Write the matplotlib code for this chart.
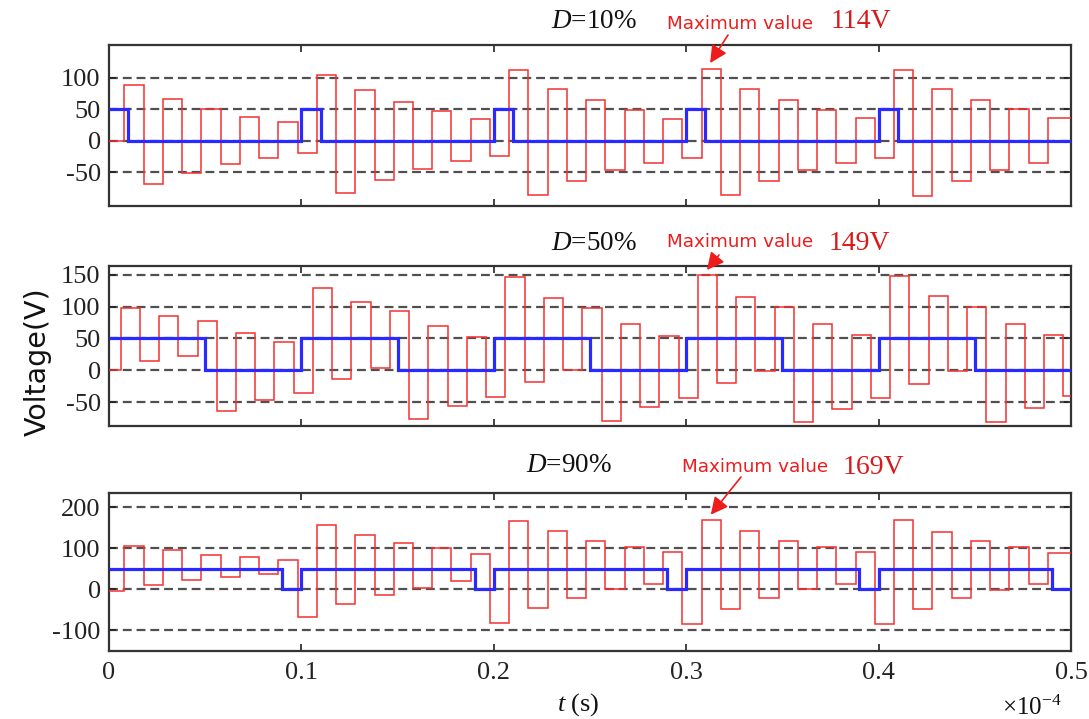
import numpy as np
import matplotlib
matplotlib.use("Agg")
import matplotlib.pyplot as plt
from matplotlib.ticker import FuncFormatter

plt.rcParams["axes.unicode_minus"] = False
plt.rcParams["mathtext.fontset"] = "custom"
plt.rcParams["mathtext.rm"] = "Liberation Serif"
plt.rcParams["mathtext.it"] = "Liberation Serif:italic"

# ---- data -------------------------------------------------------------
duty_cycles = [0.10, 0.50, 0.90]
duty_labels = ["10", "50", "90"]
peak_labels = ["114V", "149V", "169V"]
pwm_period_us = 10.0
pwm_amplitude = 50.0
t_end_us = 50.0
step_us = 1.0                      # switching step of the output voltage
first_switch_us = [0.8, 0.6, 0.8]  # first output transition in each case
peak_index = 31                    # step annotated as the maximum

# output voltage, one value per switching step (V)
red_d10 = [0, 88, -69, 66, -51, 51, -37, 38, -27, 29, -20,
           105, -84, 80, -62, 61, -45, 47, -33, 35, -24,
           112, -87, 82, -64, 64, -47, 49, -35, 35, -27,
           114, -87, 82, -65, 64, -47, 49, -35, 36, -27,
           113, -88, 82, -65, 64, -47, 50, -36, 36]
red_d50 = [0, 98, 14, 86, 23, 77, -64, 58, -47, 44, -35,
           129, -14, 108, 3, 93, -76, 69, -56, 52, -42,
           147, -19, 114, 0, 98, -80, 72, -58, 54, -43,
           149, -20, 115, -1, 99, -81, 73, -60, 56, -44,
           148, -21, 116, -1, 99, -81, 72, -59, 56, -40]
red_d90 = [-5, 107, 10, 96, 22, 85, 31, 78, 37, 72, -67,
           157, -36, 132, -14, 112, 3, 100, 20, 86, -82,
           168, -45, 142, -21, 119, 0, 104, 13, 91, -85,
           169, -49, 142, -22, 119, 0, 103, 13, 91, -85,
           169, -48, 141, -22, 119, -2, 104, 13, 89]
red_series = [red_d10, red_d50, red_d90]

y_limits = [(-104, 152), (-87, 163), (-150, 236)]
y_ticks = [[-50, 0, 50, 100], [-50, 0, 50, 100, 150], [-100, 0, 100, 200]]

# ---- figure -----------------------------------------------------------
W, H = 1089, 719
fig = plt.figure(figsize=(W / 100, H / 100), dpi=100)

def box(left, top, right, bottom):
    return [left / W, 1 - bottom / H, (right - left) / W, (bottom - top) / H]

axes_boxes = [box(109, 45, 1071, 206), box(109, 266.5, 1071, 425.7),
              box(109, 492.7, 1071, 650.7)]

red_color = "#f53030"
blue_color = "#2a2aff"
serif = "Liberation Serif"

title_pos = [(551, 21), (551, 244), (526, 466)]
maxtxt_pos = [(667, 24), (667, 242), (682, 467)]
value_pos = [(831, 22), (829, 243), (843, 468)]
arrow_tail = [(728, 35), (719, 255), (741, 477)]

us = 1e-6
for i, rect in enumerate(axes_boxes):
    ax = fig.add_axes(rect)
    vals = np.asarray(red_series[i], dtype=float)
    n = len(vals)
    edges = np.concatenate([[0.0], first_switch_us[i] + step_us * np.arange(n - 1), [t_end_us]])
    ax.stairs(vals, edges * us, baseline=None, color=red_color, lw=1.1, zorder=3)

    # PWM gate signal
    d = duty_cycles[i]
    pwm_edges = [0.0]
    pwm_vals = []
    for k in range(int(t_end_us / pwm_period_us)):
        start = k * pwm_period_us
        pwm_vals += [pwm_amplitude, 0.0]
        pwm_edges += [start + d * pwm_period_us, start + pwm_period_us]
    ax.stairs(pwm_vals, np.array(pwm_edges) * us, baseline=None,
              color=blue_color, lw=2.3, zorder=4)

    ax.set_xlim(0, t_end_us * us)
    ax.set_ylim(*y_limits[i])
    ax.set_yticks(y_ticks[i])
    ax.set_xticks(np.arange(0, 6) * 1e-5)
    ax.xaxis.set_major_formatter(FuncFormatter(
        lambda v, p: "0" if abs(v) < 1e-12 else f"{v / 1e-4:.1f}"))
    ax.grid(axis="y", color="#505050", lw=1.6, linestyle=(0, (4, 2.2)))
    ax.set_axisbelow(True)
    ax.tick_params(direction="in", length=5, width=1.2, top=True, right=True,
                   labelsize=19, colors="#222222", pad=6)
    ax.tick_params(axis="x", pad=8)
    for lab in ax.get_xticklabels() + ax.get_yticklabels():
        lab.set_fontfamily(serif)
    if i < 2:
        ax.tick_params(labelbottom=False)
    for sp in ax.spines.values():
        sp.set_linewidth(1.6)
        sp.set_color("#333333")

    # annotations
    fig.text(title_pos[i][0] / W, 1 - title_pos[i][1] / H,
             r"$D$=" + duty_labels[i] + "%", fontsize=19.5, family=serif,
             ha="left", va="center", color="#111111")
    fig.text(maxtxt_pos[i][0] / W, 1 - maxtxt_pos[i][1] / H, "Maximum value",
             fontsize=13.2, family="DejaVu Sans", ha="left", va="center",
             color="#ee1c1c")
    fig.text(value_pos[i][0] / W, 1 - value_pos[i][1] / H, peak_labels[i],
             fontsize=20, family=serif, ha="left", va="center", color="#d81a1a")
    t_peak = (first_switch_us[i] + step_us * (peak_index - 0.75)) * us
    ax.annotate("", xy=(t_peak, vals[peak_index]), xycoords="data",
                xytext=(arrow_tail[i][0], H - arrow_tail[i][1]),
                textcoords="figure pixels",
                arrowprops=dict(arrowstyle="-|>", color="#ee1c1c", lw=1.2,
                                mutation_scale=26, shrinkA=0, shrinkB=5),
                annotation_clip=False)

fig.text(38 / W, 1 - 362 / H, "Voltage(V)", rotation=90, fontsize=20.5,
         family="DejaVu Sans", ha="center", va="center", color="#111111")
fig.text(578 / W, 1 - 705 / H, r"$t$ (s)", fontsize=19, family=serif,
         ha="center", va="center", color="#111111")
fig.text(1002 / W, 1 - 708 / H, r"$\times10^{-4}$", fontsize=18,
         ha="left", va="center", color="#111111")

fig.savefig("out.png", dpi=100, facecolor="white")
